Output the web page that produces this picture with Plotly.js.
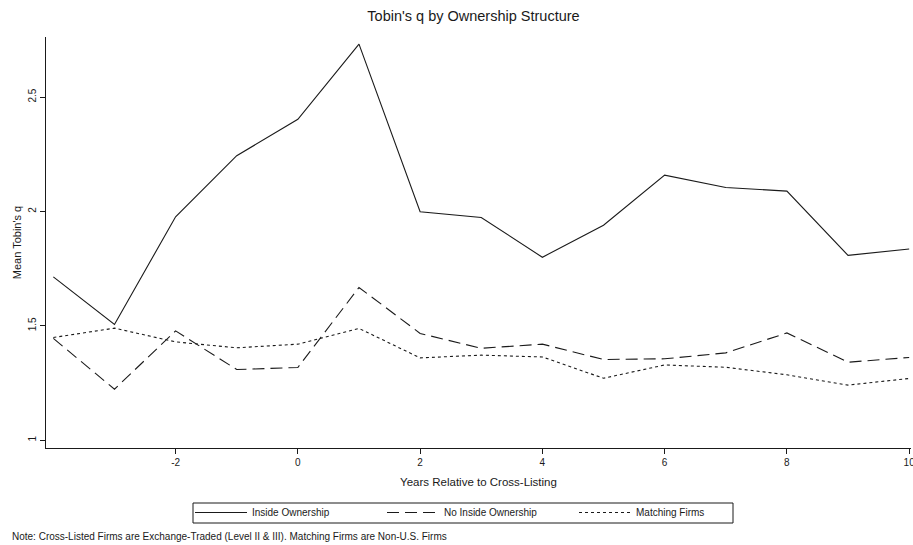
<!DOCTYPE html>
<html>
<head>
<meta charset="utf-8">
<script src="https://cdn.plot.ly/plotly-3.0.1.min.js"></script>
<style>html,body{margin:0;padding:0;background:#fff;}#chart{width:913px;height:545px;}</style>
</head>
<body>
<div id="chart"></div>
<script>
// Data
const years = [-4, -3, -2, -1, 0, 1, 2, 3, 4, 5, 6, 7, 8, 9, 10];
const insideOwnership = [1.714, 1.506, 1.977, 2.244, 2.403, 2.732, 1.999, 1.974, 1.800, 1.940, 2.159, 2.105, 2.089, 1.808, 1.836];
const noInsideOwnership = [1.445, 1.223, 1.478, 1.309, 1.318, 1.668, 1.467, 1.402, 1.420, 1.353, 1.356, 1.382, 1.469, 1.341, 1.362];
const matchingFirms = [1.449, 1.490, 1.430, 1.404, 1.420, 1.489, 1.360, 1.372, 1.364, 1.271, 1.329, 1.319, 1.286, 1.241, 1.270];
const seriesNames = ["Inside Ownership", "No Inside Ownership", "Matching Firms"];
const xTickVals = [-2, 0, 2, 4, 6, 8, 10];
const xTickText = ["-2", "0", "2", "4", "6", "8", "10"];
const yTickVals = [1, 1.5, 2, 2.5];
const yTickText = ["1", "1.5", "2", "2.5"];

const FONT = "Liberation Sans, Arial, sans-serif";
const ink = "#1a1a1a";

const traces = [
  {x: years, y: insideOwnership, name: seriesNames[0], mode: "lines",
   line: {color: ink, width: 1.1, dash: "solid"}},
  {x: years, y: noInsideOwnership, name: seriesNames[1], mode: "lines",
   line: {color: ink, width: 1.1, dash: "12px,6px"}},
  {x: years, y: matchingFirms, name: seriesNames[2], mode: "lines",
   line: {color: ink, width: 1.1, dash: "3px,3px"}}
];

const PW = 865, PH = 411, PL = 46, PB = 448;
const layout = {
  width: 913, height: 545,
  margin: {l: 46, r: 2, t: 37, b: 97, autoexpand: false},
  paper_bgcolor: "#fff", plot_bgcolor: "#fff",
  font: {family: FONT, color: ink, size: 11},
  showlegend: true,
  title: {text: "Tobin's q by Ownership Structure", font: {family: FONT, size: 14.5, color: ink},
          x: (473.5-PL)/PW, xref: "paper", xanchor: "center", y: 1 - 16/545, yref: "container", yanchor: "middle"},
  xaxis: {
    range: [-4.12, 10.03], tickmode: "array", tickvals: xTickVals, ticktext: xTickText,
    ticklabeloverflow: "allow",
    showgrid: false, zeroline: false, showline: true, linecolor: ink, linewidth: 1,
    ticks: "outside", ticklen: 5, tickcolor: ink, tickfont: {size: 10, family: FONT},
    title: {text: "Years Relative to Cross-Listing", font: {size: 11.5, family: FONT}, standoff: 10}
  },
  yaxis: {
    range: [0.966, 2.763], tickmode: "array", tickvals: yTickVals, ticktext: yTickText,
    showgrid: false, zeroline: false, showline: true, linecolor: ink, linewidth: 1,
    ticks: "outside", ticklen: 5, tickcolor: ink, tickangle: -90, tickfont: {size: 10, family: FONT},
    title: {text: "Mean Tobin's q", font: {size: 11, family: FONT}, standoff: 3}
  },
  legend: {
    orientation: "h", xref: "paper", yref: "paper",
    x: (190-PL)/PW, xanchor: "left", y: (PB-498)/PH, yanchor: "top",
    borderwidth: 0, bgcolor: "rgba(0,0,0,0)",
    font: {size: 10, family: FONT}, entrywidth: 125, entrywidthmode: "pixels",
    itemwidth: 52, tracegroupgap: 0
  },
  shapes: [{
    type: "rect", xref: "paper", yref: "paper",
    x0: (193-PL)/PW, x1: (733-PL)/PW, y0: (PB-503)/PH, y1: (PB-523)/PH,
    line: {color: ink, width: 1}, fillcolor: "rgba(0,0,0,0)", layer: "below"
  }],
  annotations: [{
    text: "Note: Cross-Listed Firms are Exchange-Traded (Level II & III). Matching Firms are Non-U.S. Firms",
    xref: "paper", yref: "paper", x: -36/PW, xanchor: "left", y: (PB-536)/PH, yanchor: "middle",
    showarrow: false, font: {size: 10, family: FONT, color: ink}
  }]
};

Plotly.newPlot("chart", traces, layout, {displayModeBar: false, staticPlot: true});
</script>
</body>
</html>
